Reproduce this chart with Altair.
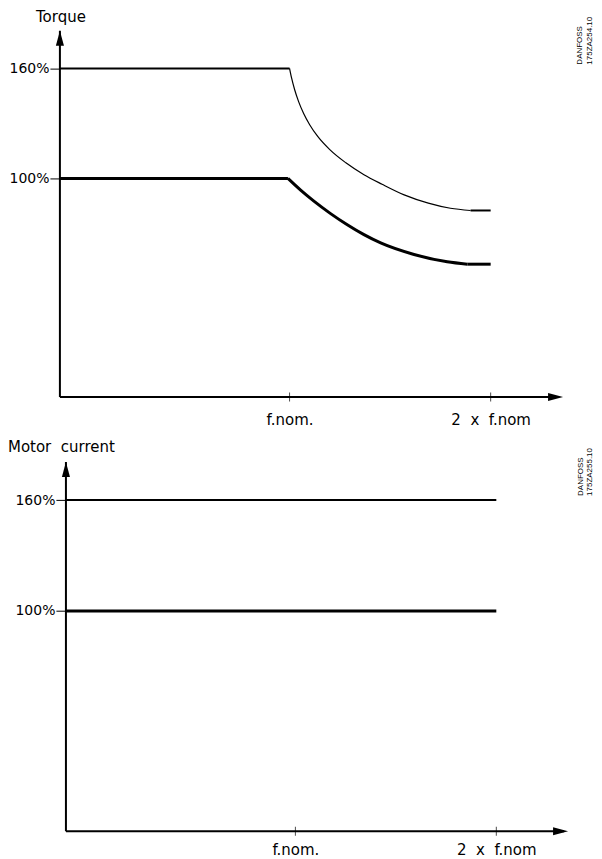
import altair as alt
import pandas as pd

# ---------------- data ----------------
AXIS_F = -0.142                      # where the vertical axis stands (units of f.nom)
X_DOMAIN_TOP = [-0.142, 2.36]
X_DOMAIN_BOTTOM = [-0.172, 2.357]
Y_DOMAIN = [-19.3, 180.6]            # percent

X_TICKS = [1, 2]
X_TICK_LABELS = ["f.nom.", "2\u00a0\u00a0x\u00a0\u00a0f.nom"]
Y_TICKS = [100, 160]

PANEL_TITLES = ["Torque", "Motor\u00a0 current"]
WATERMARKS = [["DANFOSS", "175ZA254.10"], ["DANFOSS", "175ZA255.10"]]

# Torque panel: thin curve (160 %) and thick curve (100 %)
torque_max_f = [-0.142, 1.00, 1.01, 1.025, 1.045, 1.07, 1.10, 1.14, 1.20, 1.28, 1.37, 1.46,
                1.57, 1.69, 1.80, 1.90, 2.00]
torque_max = [160, 160, 154.8, 148.5, 141.9, 135.4, 129.3, 122.9, 115.7, 108.5, 102.0, 96.8,
              91.0, 86.5, 83.7, 82.5, 82.5]

torque_nom_f = [-0.142, 0.992, 1.055, 1.121, 1.204, 1.287, 1.370, 1.453, 1.619, 1.784, 1.884, 2.000]
torque_nom = [100, 100, 93.6, 87.6, 80.8, 74.7, 69.3, 64.8, 58.5, 54.5, 53.2, 53.2]

# Motor current panel
current_f = [-0.142, 2.0]
current_max = [160, 160]
current_nom = [100, 100]

FONT = "DejaVu Sans"

# ---------------- helpers ----------------
label_expr = " : ".join(
    [f"datum.value == {v} ? '{l}'" for v, l in zip(X_TICKS[:-1], X_TICK_LABELS[:-1])]
    + [f"'{X_TICK_LABELS[-1]}'"]
)


def make_panel(xdom, width, height, lines, title, title_pos, wm, y_offset, x_label_pad):
    x_axis = alt.Axis(values=X_TICKS, labelExpr=label_expr, ticks=False, domain=False,
                      labelPadding=x_label_pad, title=None, grid=False,
                      labelFont=FONT, labelFontSize=15, labelColor="black")
    y_axis = alt.Axis(values=Y_TICKS, labelExpr="datum.value + '%'", tickSize=10, tickWidth=1,
                      tickColor="black", labelPadding=1, title=None, grid=False, domain=False,
                      offset=y_offset, labelFont=FONT, labelFontSize=14, labelColor="black")
    xs = alt.Scale(domain=xdom, nice=False, zero=False)
    ys = alt.Scale(domain=Y_DOMAIN, nice=False, zero=False)

    def X(field="f"):
        return alt.X(f"{field}:Q", scale=xs, axis=x_axis)

    def Y(field="v"):
        return alt.Y(f"{field}:Q", scale=ys, axis=y_axis)

    layers = []
    for fs, vs, w, interp in lines:
        df = pd.DataFrame({"f": fs, "v": vs})
        layers.append(alt.Chart(df).mark_line(color="black", strokeWidth=w, interpolate=interp,
                                              strokeJoin="miter").encode(x=X(), y=Y()))

    # axis lines with arrow heads
    yline = alt.Chart(pd.DataFrame({"f": [AXIS_F], "v": [Y_DOMAIN[0]], "v2": [Y_DOMAIN[1]]})).mark_rule(
        color="black", strokeWidth=2).encode(x=X(), y=Y(), y2="v2:Q")
    xline = alt.Chart(pd.DataFrame({"f": [AXIS_F], "f2": [xdom[1] - 0.02], "v": [Y_DOMAIN[0]]})).mark_rule(
        color="black", strokeWidth=2).encode(x=X(), x2="f2:Q", y=Y())
    arrow_up = alt.Chart(pd.DataFrame({"f": [AXIS_F], "v": [Y_DOMAIN[1]]})).mark_point(
        shape="M0,0L-0.27,1L0.27,1Z", size=900, filled=True, color="black", opacity=1
    ).encode(x=X(), y=Y())
    arrow_right = alt.Chart(pd.DataFrame({"f": [xdom[1]], "v": [Y_DOMAIN[0]]})).mark_point(
        shape="M0,0L-1,-0.27L-1,0.27Z", size=900, filled=True, color="black", opacity=1
    ).encode(x=X(), y=Y())
    ticks = alt.Chart(pd.DataFrame({"f": X_TICKS, "v": [Y_DOMAIN[0]] * len(X_TICKS)})).mark_tick(
        orient="vertical", size=9, thickness=1, color="black"
    ).encode(x=X(), y=Y())
    ttl = alt.Chart(alt.Data(values=[{}])).mark_text(
        text=title, align=title_pos[1], baseline="alphabetic", font=FONT, fontSize=15, color="black"
    ).encode(x=alt.value(title_pos[0]), y=alt.value(title_pos[2]))
    wms = []
    for t, (px, py) in zip(wm[0], wm[1]):
        wms.append(alt.Chart(alt.Data(values=[{}])).mark_text(
            text=t, angle=270, align="left", baseline="middle",
            font="Liberation Sans", fontSize=8, color="black"
        ).encode(x=alt.value(px), y=alt.value(py)))
    return alt.layer(*layers, yline, xline, ticks, arrow_up, arrow_right, ttl, *wms).properties(
        width=width, height=height)


def split(fs, vs, a, b):
    """flat start, curved middle, flat tail of one series"""
    return [(fs[:a + 1], vs[:a + 1]), (fs[a:b + 1], vs[a:b + 1]), (fs[b:], vs[b:])]


tm = split(torque_max_f, torque_max, 1, len(torque_max) - 2)
tn = split(torque_nom_f, torque_nom, 1, len(torque_nom) - 2)

top = make_panel(
    X_DOMAIN_TOP, 504, 367,
    [(tm[0][0], tm[0][1], 2, "linear"),
     (tm[1][0], tm[1][1], 1.2, "monotone"),
     (tm[2][0], tm[2][1], 2, "linear"),
     (tn[0][0], tn[0][1], 3, "linear"),
     (tn[1][0], tn[1][1], 3, "monotone"),
     (tn[2][0], tn[2][1], 3, "linear")],
    PANEL_TITLES[0], (1, "center", -9),
    (WATERMARKS[0], [(521, 34), (531, 34)]), 0, 15)

bottom = make_panel(
    X_DOMAIN_BOTTOM, 509, 370,
    [(current_f, current_max, 2, "linear"),
     (current_f, current_nom, 3, "linear")],
    PANEL_TITLES[1], (-52, "left", -10),
    (WATERMARKS[1], [(522, 34), (531, 34)]), -6, 11)

chart = alt.vconcat(top, bottom, spacing=13).properties(
    padding={"left": 0, "top": 1, "right": 0, "bottom": 0}, background="white"
).configure_view(strokeWidth=0)

chart.save("out.html", embed_options={"renderer": "svg", "actions": False})
